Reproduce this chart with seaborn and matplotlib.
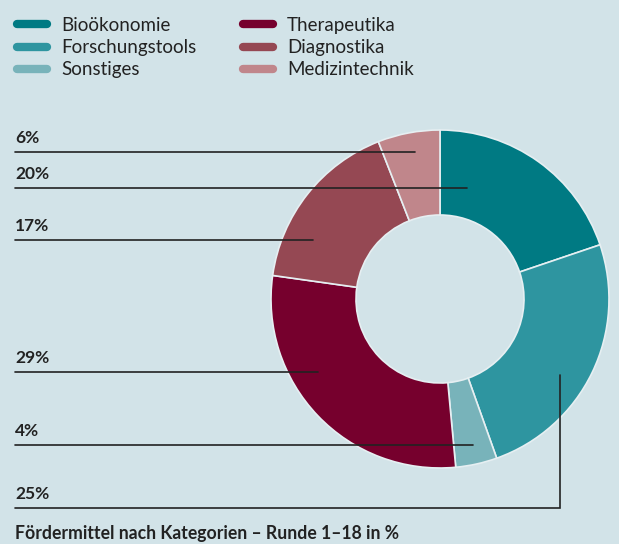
import matplotlib.pyplot as plt
import seaborn as sns
from matplotlib.lines import Line2D

categories = ["Bioökonomie", "Forschungstools", "Sonstiges", "Therapeutika", "Diagnostika", "Medizintechnik"]
shares = [20, 25, 4, 29, 17, 6]
colors = ["#007a83", "#2e95a0", "#78b3ba", "#76002d", "#954853", "#c0868b"]
title = "Fördermittel nach Kategorien – Runde 1–18 in %"

# label layout in pixels from top: (category, line y, line end x)
label_rows = [
    ("Medizintechnik", 152, 415),
    ("Bioökonomie", 188, 467),
    ("Diagnostika", 240, 313),
    ("Therapeutika", 372, 318),
    ("Sonstiges", 445, 473),
    ("Forschungstools", 508, 560),
]

BG = "#d2e3e8"
INK = "#222222"
W, H = 619, 544

sns.set_theme(style="white", rc={"figure.facecolor": BG, "axes.facecolor": BG})
plt.rcParams["font.family"] = ["Lato", "DejaVu Sans"]

fig = plt.figure(figsize=(W / 100, H / 100), dpi=100)
ax = fig.add_axes([0, 0, 1, 1])

ax.pie(
    shares,
    colors=colors,
    startangle=90,
    counterclock=False,
    center=(440, H - 299),
    radius=169,
    wedgeprops=dict(width=85, edgecolor="#e6eff2", linewidth=1.2),
)
ax.set_xlim(0, W)
ax.set_ylim(0, H)
ax.set_aspect("equal")
ax.axis("off")

share_of = dict(zip(categories, shares))
for name, y_px, x_end in label_rows:
    y = H - y_px
    if name == "Forschungstools":
        ax.plot([15, x_end, x_end], [y, y, H - 375], color=INK, lw=1.2, solid_joinstyle="miter")
    else:
        ax.plot([15, x_end], [y, y], color=INK, lw=1.2)
    ax.text(15, y + 6, f"{share_of[name]}%", fontsize=12.5, fontweight="bold", color=INK,
            ha="left", va="bottom")

ax.text(15, H - 533, title, fontsize=12.7, fontweight="bold", color=INK, ha="left", va="center")

handles = [Line2D([0], [0], color=c, lw=6, solid_capstyle="round") for c in colors]
fig.legend(
    handles, categories, ncol=2, loc="upper left", bbox_to_anchor=(0.0, 1.0),
    frameon=False, fontsize=13.5, handlelength=1.6, handletextpad=0.75,
    columnspacing=2.5, labelspacing=0.28, labelcolor=INK,
)

fig.savefig("out.png", dpi=100, facecolor=BG)
